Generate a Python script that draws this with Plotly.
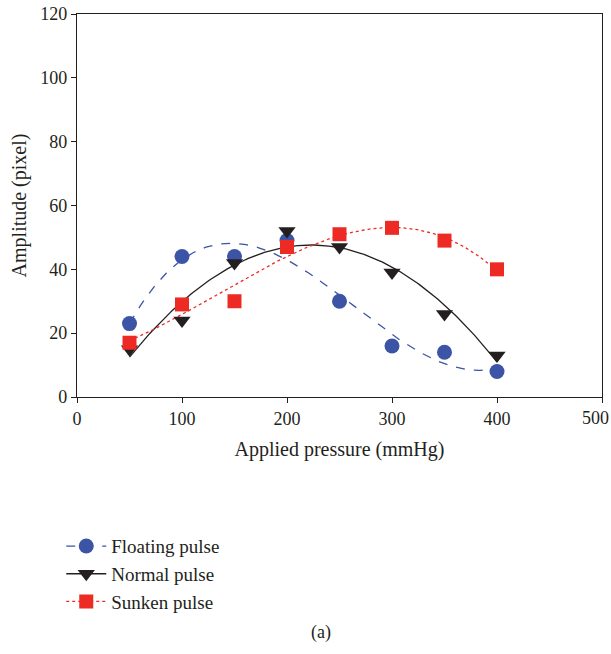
import numpy as np
import plotly.graph_objects as go

pressure = [50, 100, 150, 200, 250, 300, 350, 400]
floating = [23, 44, 44, 49, 30, 16, 14, 8]
normal = [15, 24, 42, 52, 47, 39, 26, 13]
sunken = [17, 29, 30, 47, 51, 53, 49, 40]
x_ticks = [0, 100, 200, 300, 400, 500]
x_ticklabels = ["0", "100", "200", "300", "400", "500"]

names = ["Floating pulse", "Normal pulse", "Sunken pulse"]
colors = ["#3b54a5", "#231f20", "#ee2a24"]
symbols = ["circle", "triangle-down", "square"]
dashes = ["dash", "solid", "dot"]
degrees = [3, 2, 3]
series = [floating, normal, sunken]
sizes = [15, 15, 14]

FONT = "Liberation Serif"
fig = go.Figure()
xs = np.linspace(min(pressure), max(pressure), 200)
for name, col, sym, dash, deg, ys, sz in zip(names, colors, symbols, dashes, degrees, series, sizes):
    coef = np.polyfit(pressure, ys, deg)
    fig.add_trace(go.Scatter(x=xs, y=np.polyval(coef, xs), mode="lines",
                             line=dict(color=col, width=1.3, dash=dash),
                             showlegend=False, hoverinfo="skip"))
for name, col, sym, dash, deg, ys, sz in zip(names, colors, symbols, dashes, degrees, series, sizes):
    fig.add_trace(go.Scatter(x=pressure, y=ys, mode="markers",
                             marker=dict(symbol=sym, color=col, size=sz, line=dict(width=0)),
                             showlegend=False))
for name, col, sym, dash, deg, ys, sz in zip(names, colors, symbols, dashes, degrees, series, sizes):
    fig.add_trace(go.Scatter(x=[None], y=[None], mode="lines+markers", name=name,
                             line=dict(color=col, width=1.3, dash=dash),
                             marker=dict(symbol=sym, color=col, size=sz, line=dict(width=0))))

axis_common = dict(showline=True, linecolor="#231f20", linewidth=1.3, mirror=True,
                   ticks="outside", ticklen=5, tickcolor="#231f20", tickwidth=1,
                   showgrid=False, zeroline=False, ticklabeloverflow="allow",
                   automargin=False,
                   tickfont=dict(family=FONT, size=18, color="#231f20"))
# last x tick label is drawn as an annotation so it stays inside the page edge
shown_labels = x_ticklabels[:-1] + [""]
fig.update_layout(
    width=611, height=654,
    margin=dict(l=77, r=9, t=14, b=257),
    plot_bgcolor="white", paper_bgcolor="white",
    font=dict(family=FONT, color="#231f20"),
    xaxis=dict(range=[0, 500], tickvals=x_ticks, ticktext=shown_labels,
               title=dict(text="Applied pressure (mmHg)", font=dict(family=FONT, size=20), standoff=14),
               **axis_common),
    yaxis=dict(range=[0, 120], dtick=20,
               title=dict(text="Amplitude (pixel)", font=dict(family=FONT, size=20), standoff=8),
               **axis_common),
    legend=dict(x=-0.03, y=-0.34, xanchor="left", yanchor="top",
                font=dict(family=FONT, size=19, color="#231f20"),
                bgcolor="rgba(0,0,0,0)", tracegroupgap=0, itemwidth=40),
    annotations=[
        dict(text="(a)", x=0.465, y=-0.615, xref="paper", yref="paper",
             yanchor="middle", showarrow=False,
             font=dict(family=FONT, size=18, color="#231f20")),
        dict(text=x_ticklabels[-1], x=x_ticks[-1], y=0, xref="x", yref="paper",
             xanchor="right", yanchor="middle", xshift=9, yshift=-21,
             showarrow=False, font=dict(family=FONT, size=18, color="#231f20")),
    ],
)
fig.write_html("out.html")
